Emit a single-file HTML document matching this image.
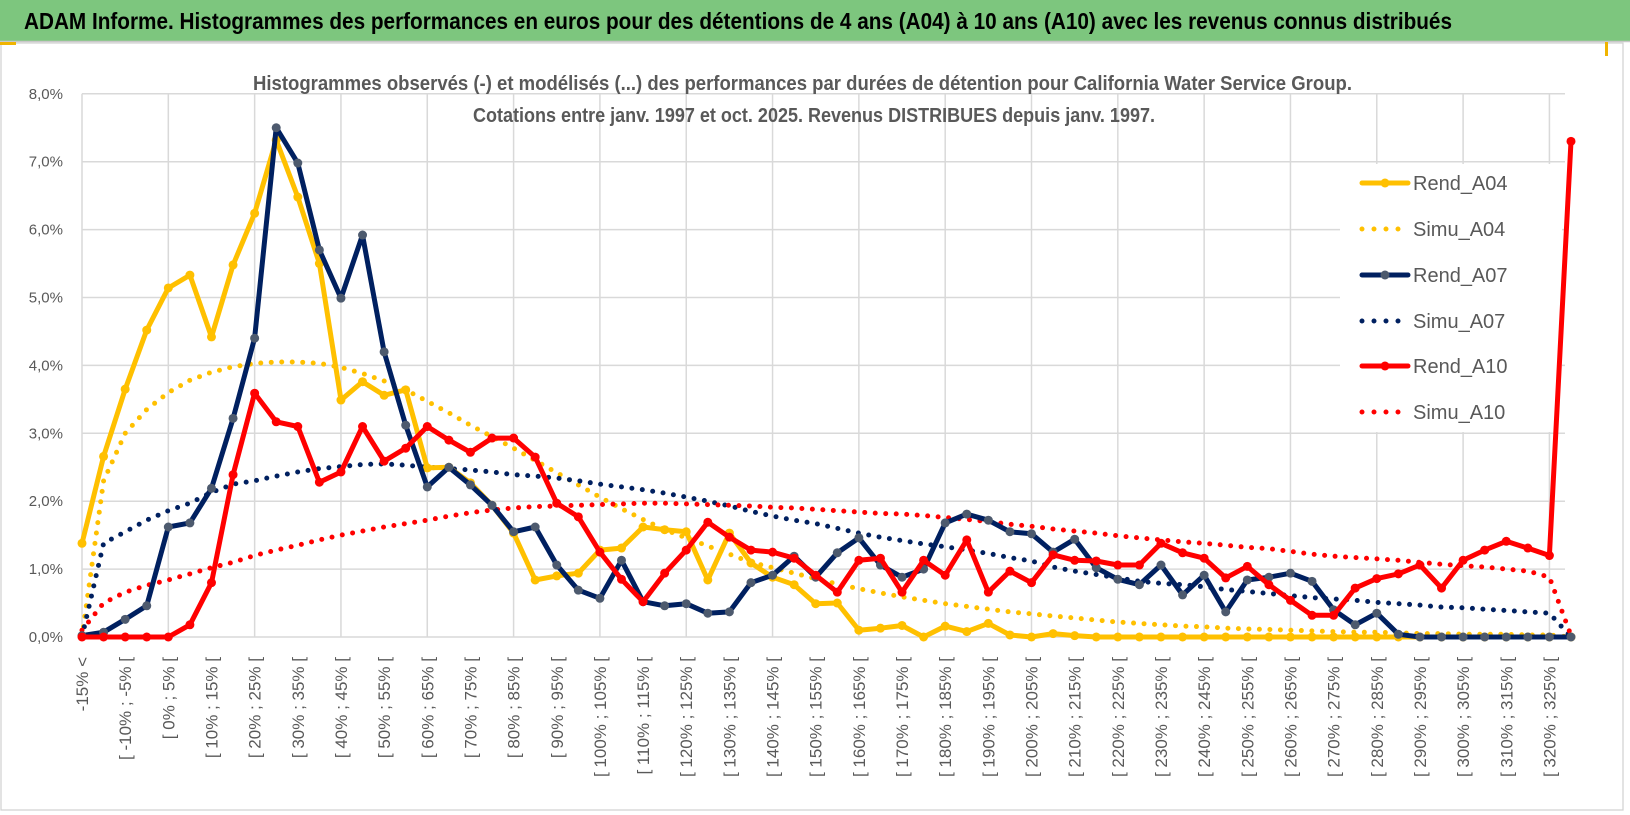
<!DOCTYPE html>
<html><head><meta charset="utf-8">
<style>
html,body{margin:0;padding:0;background:#fff;}
svg{display:block;font-family:"Liberation Sans Narrow","Liberation Sans",sans-serif;}
</style></head>
<body>
<svg id="chart" width="1630" height="815" viewBox="0 0 1630 815" xmlns="http://www.w3.org/2000/svg">
  <rect x="0" y="0" width="1630" height="815" fill="#fff"/>
  <rect x="0" y="0" width="1630" height="41" fill="#7dc67e"/>
  <line x1="0" y1="41.5" x2="1630" y2="41.5" stroke="#c8c8c8" stroke-width="1.5"/>
  <text x="24" y="29" font-size="23" font-weight="bold" fill="#000" textLength="1428" lengthAdjust="spacingAndGlyphs">ADAM Informe. Histogrammes des performances en euros pour des détentions de 4 ans (A04) à 10 ans (A10) avec les revenus connus distribués</text>
  <rect x="1" y="43" width="1622" height="767" fill="none" stroke="#d0d0d0" stroke-width="1.2"/>
  <rect x="0" y="42" width="16" height="3" fill="#f0b400"/>
  <rect x="1605" y="42" width="3" height="14" fill="#f0b400"/>
  <g id="grid"></g>
  <text x="253" y="90" font-size="20" font-weight="bold" fill="#595959" textLength="1099" lengthAdjust="spacingAndGlyphs">Histogrammes observés (-) et modélisés (...) des performances par durées de détention pour California Water Service Group.</text>
  <text x="473" y="122" font-size="20" font-weight="bold" fill="#595959" textLength="682" lengthAdjust="spacingAndGlyphs">Cotations entre janv. 1997 et oct. 2025. Revenus DISTRIBUES depuis janv. 1997.</text>
  <g id="yaxis"></g>
  <g id="xaxis"></g>
  <g id="legend"></g>
  <g id="series"></g>
</svg>
<script>
const categories = (function(){ const c=["-15% <"]; for(let k=1;k<70;k++){ const a=5*(k-4), b=a+5; c.push("[ "+a+"% ; "+b+"% ["); } return c; })();
const yTicks = [0,1,2,3,4,5,6,7,8];
const yTickLabels = ["0,0%","1,0%","2,0%","3,0%","4,0%","5,0%","6,0%","7,0%","8,0%"];
const rendA04 = [1.38,2.66,3.65,4.52,5.14,5.33,4.42,5.48,6.24,7.32,6.48,5.5,3.49,3.76,3.56,3.64,2.49,2.5,2.27,1.94,1.53,0.84,0.9,0.94,1.28,1.31,1.62,1.58,1.55,0.84,1.53,1.09,0.88,0.77,0.49,0.5,0.1,0.13,0.17,0.0,0.16,0.08,0.2,0.03,0.0,0.05,0.02,0,0,0,0,0,0,0,0,0,0,0,0,0,0,0,0,0,0,0,0,0,0,0];
const simuA04 = [0,2.3,3.0,3.35,3.6,3.78,3.9,3.98,4.03,4.05,4.05,4.03,3.97,3.88,3.77,3.64,3.47,3.3,3.12,2.95,2.78,2.6,2.42,2.24,2.06,1.89,1.73,1.58,1.46,1.34,1.22,1.1,1.02,0.94,0.86,0.78,0.71,0.65,0.59,0.54,0.49,0.45,0.41,0.37,0.34,0.31,0.28,0.25,0.22,0.2,0.18,0.16,0.15,0.13,0.12,0.11,0.1,0.09,0.08,0.07,0.07,0.06,0.05,0.05,0.04,0.04,0.04,0.03,0.03,0.0];
const rendA07 = [0.02,0.07,0.26,0.46,1.62,1.68,2.19,3.22,4.4,7.5,6.98,5.7,4.99,5.92,4.2,3.12,2.21,2.5,2.24,1.94,1.55,1.62,1.06,0.69,0.57,1.13,0.52,0.46,0.49,0.35,0.37,0.8,0.91,1.19,0.88,1.24,1.46,1.06,0.88,1.0,1.68,1.81,1.72,1.55,1.52,1.25,1.44,1.02,0.85,0.77,1.06,0.62,0.91,0.37,0.84,0.88,0.94,0.82,0.4,0.18,0.35,0.04,0,0,0,0,0,0,0,0];
const simuA07 = [0,1.38,1.55,1.72,1.86,1.97,2.13,2.25,2.3,2.37,2.43,2.48,2.51,2.54,2.55,2.53,2.5,2.48,2.46,2.43,2.39,2.37,2.34,2.3,2.25,2.21,2.17,2.12,2.06,2.0,1.93,1.85,1.78,1.72,1.67,1.6,1.53,1.47,1.42,1.37,1.33,1.28,1.23,1.17,1.12,1.03,0.97,0.92,0.87,0.82,0.79,0.77,0.74,0.7,0.67,0.64,0.61,0.58,0.56,0.54,0.51,0.49,0.47,0.44,0.43,0.41,0.39,0.37,0.35,0.0];
const rendA10 = [0,0,0,0,0,0.18,0.8,2.39,3.59,3.17,3.1,2.28,2.43,3.1,2.59,2.78,3.1,2.9,2.72,2.93,2.93,2.65,1.97,1.77,1.25,0.85,0.52,0.94,1.28,1.69,1.47,1.28,1.25,1.16,0.91,0.66,1.13,1.16,0.66,1.13,0.91,1.43,0.66,0.97,0.8,1.21,1.13,1.12,1.06,1.06,1.38,1.24,1.16,0.87,1.04,0.77,0.54,0.32,0.32,0.72,0.86,0.93,1.06,0.72,1.13,1.28,1.41,1.31,1.2,7.3];
const simuA10 = [0.1,0.5,0.66,0.76,0.84,0.93,1.02,1.1,1.2,1.28,1.35,1.43,1.5,1.56,1.62,1.67,1.72,1.78,1.83,1.87,1.9,1.92,1.93,1.94,1.95,1.96,1.97,1.97,1.96,1.95,1.94,1.93,1.91,1.9,1.88,1.86,1.84,1.82,1.81,1.79,1.76,1.73,1.7,1.66,1.63,1.59,1.56,1.53,1.49,1.46,1.43,1.4,1.38,1.35,1.32,1.3,1.26,1.22,1.19,1.17,1.15,1.13,1.1,1.07,1.05,1.03,1.0,0.97,0.88,0.02];
const seriesNames = ["Rend_A04","Simu_A04","Rend_A07","Simu_A07","Rend_A10","Simu_A10"];

const NS="http://www.w3.org/2000/svg";
const X0=82, X1=1571, Y0=637, YPER=67.9;
function xs(i){ return X0 + i*(X1-X0)/(categories.length-1); }
function ys(v){ return Y0 - v*YPER; }
function mk(tag, attrs, parent){ const e=document.createElementNS(NS,tag); for(const k in attrs) e.setAttribute(k,attrs[k]); parent.appendChild(e); return e; }

const grid=document.getElementById('grid');
yTicks.forEach(function(t){
  const l=mk('line',{x1:X0,x2:1565,y1:ys(t),y2:ys(t),stroke:'#d9d9d9','stroke-width':1.5},grid);
  
  
});
for(let i=0;i<categories.length;i+=4){
  const l=mk('line',{x1:xs(i),x2:xs(i),y1:ys(8),y2:Y0,stroke:'#d9d9d9','stroke-width':1.5},grid);
  
  
}
const ya=document.getElementById('yaxis');
yTicks.forEach(function(t,i){
  const e=mk('text',{x:63,y:ys(t)+5,'text-anchor':'end','font-size':15,fill:'#595959'},ya);
  e.textContent=yTickLabels[i];
  
  
});
const xa=document.getElementById('xaxis');
for(let i=0;i<categories.length;i+=2){
  const x=xs(i)+6;
  const e=mk('text',{x:x,y:657,'text-anchor':'end','font-size':17,fill:'#595959',transform:'rotate(-90 '+x+' 657)'},xa);
  e.textContent=categories[i];
  
  
}
const sg=document.getElementById('series');
function pts(arr){ return arr.map(function(v,i){ return xs(i).toFixed(1)+','+ys(v).toFixed(1); }).join(' '); }
function dotted(arr,color,name){
  const p=mk('polyline',{points:pts(arr),fill:'none',stroke:color,'stroke-width':5,'stroke-linecap':'round','stroke-dasharray':'0 10.5'},sg);
  
  
}
function solid(arr,color,mcolor,name){
  const g=mk('g',{},sg);
  
  
  mk('polyline',{points:pts(arr),fill:'none',stroke:color,'stroke-width':5,'stroke-linejoin':'round'},g);
  arr.forEach(function(v,i){
    const c=mk('circle',{cx:xs(i),cy:ys(v),r:4.5,fill:mcolor},g);
    
    
  });
}
dotted(simuA04,'#ffc000','simu-a04-line');
dotted(simuA07,'#002060','simu-a07-line');
dotted(simuA10,'#ff0000','simu-a10-line');
solid(rendA04,'#ffc000','#ffc000','rend-a04-line');
solid(rendA07,'#002060','#4d5a6e','rend-a07-line');
solid(rendA10,'#ff0000','#ff0000','rend-a10-line');

const lg=document.getElementById('legend');
mk('rect',{x:1340,y:164,width:222,height:268,fill:'#fff'},lg);
const lcol=['#ffc000','#ffc000','#002060','#002060','#ff0000','#ff0000'];
const lmk=['#ffc000',null,'#4d5a6e',null,'#ff0000',null];
const rowY=[183,229,275,321,366,412];
seriesNames.forEach(function(n,i){
  const g=mk('g',{},lg);
  
  
  const y=rowY[i];
  if(lmk[i]){
    mk('line',{x1:1362,x2:1408,y1:y,y2:y,stroke:lcol[i],'stroke-width':5,'stroke-linecap':'round'},g);
    mk('circle',{cx:1385,cy:y,r:4.5,fill:lmk[i]},g);
  } else {
    mk('line',{x1:1362,x2:1408,y1:y,y2:y,stroke:lcol[i],'stroke-width':5,'stroke-linecap':'round','stroke-dasharray':'0 12'},g);
  }
  const t=mk('text',{x:1413,y:y+7,'font-size':20,fill:'#595959'},g);
  t.textContent=n;
});
</script>
</body></html>
